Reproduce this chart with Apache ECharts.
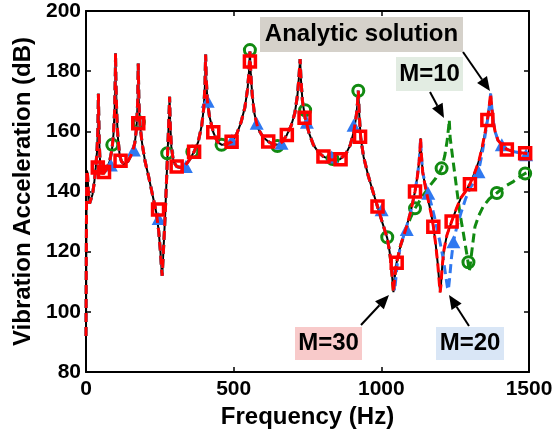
<!DOCTYPE html>
<html>
<head>
<meta charset="utf-8">
<script src="https://cdn.jsdelivr.net/npm/echarts@6/dist/echarts.min.js"></script>
<style>
html,body{margin:0;padding:0;background:#fff;}
#chart{width:556px;height:434px;}
</style>
</head>
<body>
<div id="chart"></div>
<script>
// ---- Data ----
const xTicks = [0, 500, 1000, 1500];
const yTicks = [80, 100, 120, 140, 160, 180, 200];

// Analytic solution (black solid)
const analyticFreq = [0,1,2,3,5,8,12,16,22,28,33,37,40,41.5,42,43,45,48,53,60,70,80,88,93,97,99.5,100,101,104,108,114,120,130,142,155,165,171,175,177,179,183,190,200,212,225,238,246,252,256,258,260,264,268,272,276,279,282,283,285,289,296,307,320,335,350,366,380,392,399,403,405,407,411,418,431,445,460,478,493,510,525,538,547,552,555,558,563,570,582,600,617,635,650,665,680,695,707,716,721,725,728,733,742,755,770,787,804,830,860,880,895,907,915,919,922,925,930,940,955,970,987,1004,1020,1028,1034,1038,1041,1044,1048,1052,1065,1086,1100,1114,1122,1128,1131,1133,1135,1140,1150,1159,1168,1176,1184,1191,1196,1199,1202,1206,1212,1222,1238,1255,1270,1285,1300,1315,1330,1342,1352,1360,1366,1370,1373,1378,1385,1395,1408,1425,1450,1470,1487,1500];
const analyticValues = [92,118,140,147,146,140,136,136,139,143,148,153,160,168,172.5,166,156,149,146,146,147.5,150,154,159,167,180,186,178,166,158,152,150,149,150,152.5,156,161,170,182.5,170,162,156,150,145,139,133,127,120,114,112,116,124,132,142,152,160,168,171.5,163,155,150,148.3,148,148.5,150.5,153.2,156.5,162,168,176,185.5,178,170,165,159.7,156.5,155.5,155.8,156.5,159,163,168,174,180,186.5,179,172,166,161,158,156.6,155.6,155.5,156.5,158.8,162,166,172,178,184,177,170,164.5,159.5,155.5,153,151.6,150.5,150.7,152.5,155.5,160,165,169,173.5,166,158,151.5,145.5,140.5,135,129.5,124.5,120,115,110,106.5,110,114,116.5,122,128.5,133.5,140,145,150,154,157.7,153,146.5,141,137,133,128.5,122.5,116,110,106.5,109,115,120.5,125.5,130,134.5,138,140,142.5,146,150,155,160,164.5,169,172.5,169,164,160,157,155.5,154,153.2,152.9,152.7,152.5];

// M=10 (green dashed): follows the analytic curve up to 1065 Hz, then its own branch
const m10TailFreq = [1086,1100,1114,1140,1165,1185,1204,1215,1223,1228,1230,1233,1238,1244,1255,1266,1278,1289,1295,1298,1302,1310,1317,1330,1345,1365,1391,1420,1447,1470,1487,1497];
const m10TailValues = [128,131.5,134.4,138.5,142,144.5,147.7,152,157,161.5,163.8,158,154,149.4,141,132.8,126,119.5,115.5,113.3,116.5,123,128.3,132,135,137.5,139.5,141.8,143.3,145,146,146.5];
const m10MarkFreq = [89,179,275,360,459,555,648,742,835,922,1020,1114,1204,1295,1391,1487];
const m10MarkValues = [155.5,163,152.7,153.2,155.5,187,155.1,167,150.8,173.5,124.8,134.4,147.7,116.5,139.5,146];

// M=20 (blue dashed): own trough near 1041 Hz and own branch 1140-1370 Hz
const m20MidFreq = [1034,1038,1042,1045,1049,1054];
const m20MidValues = [116,112,108.5,107,111,116];
const m20TailFreq = [1150,1159,1170,1180,1190,1200,1210,1218,1224,1227,1231,1237,1244,1255,1270,1285,1300,1315,1329,1342,1352,1360,1366];
const m20TailValues = [142,139.4,135.5,131.5,127,122.5,117.5,112,108,107.3,111,117.5,123.3,128,133,137.5,141,143.5,146.6,153,159,164,168.5];
const m20MarkFreq = [84,162,246,338,412,494,578,662,748,832,906,1001,1086,1159,1244,1329,1408,1490];
const m20MarkValues = [148.8,153.8,131,148.3,170,157,162.7,156,163,151.5,162,133.9,127.4,139.4,123.3,146.6,155.5,152.2];

// M=30 (red dashed): indistinguishable from the analytic curve
const m30MarkFreq = [40,61,117,177,244,307,366,431,493,555,617,680,740,804,862,928,987,1052,1114,1176,1238,1300,1359,1425,1487];
const m30MarkValues = [148,146.5,150.2,162.7,134,148.3,153.2,159.7,156.5,183.2,156.6,158.8,164.5,151.6,150.7,158.2,135,116.3,140,128.3,130,142.4,163.8,154,152.7];

// ---- Build series data ----
const pairs = (xs, ys) => xs.map((x, i) => [x, ys[i]]);
const analyticData = pairs(analyticFreq, analyticValues);
const m30Data = analyticData;
const m10Data = analyticData.filter(p => p[0] <= 1065).concat(pairs(m10TailFreq, m10TailValues));
const m20Data = analyticData.filter(p => p[0] < 1034)
  .concat(pairs(m20MidFreq, m20MidValues))
  .concat(analyticData.filter(p => p[0] > 1054 && p[0] <= 1140))
  .concat(pairs(m20TailFreq, m20TailValues))
  .concat(analyticData.filter(p => p[0] >= 1370));

const FONT = '"Liberation Sans", Arial, Helvetica, sans-serif';
const GREEN = '#118a11';
const BLUE = '#2f78f0';
const RED = '#ff0000';

const chart = echarts.init(document.getElementById('chart'), null, {renderer: 'canvas'});

const axisCommon = {
  type: 'value',
  axisLine: {show: true, onZero: false, lineStyle: {color: '#000', width: 2}},
  axisTick: {show: true, inside: true, length: 5, lineStyle: {color: '#000', width: 1.5}},
  splitLine: {show: false}
};
const plain = v => String(v);

const option = {
  backgroundColor: '#fff',
  animation: false,
  grid: {left: 86, right: 27, top: 11, bottom: 62, containLabel: false},
  xAxis: [
    Object.assign({}, axisCommon, {
      position: 'bottom', min: xTicks[0], max: xTicks[xTicks.length - 1], interval: xTicks[1] - xTicks[0],
      axisLabel: {show: true, fontSize: 21, fontWeight: 'bold', color: '#000', fontFamily: FONT, margin: 7, formatter: plain},
      name: 'Frequency (Hz)', nameLocation: 'middle', nameGap: 29,
      nameTextStyle: {fontSize: 24, fontWeight: 'bold', color: '#000', fontFamily: FONT}
    }),
    Object.assign({}, axisCommon, {
      position: 'top', min: xTicks[0], max: xTicks[xTicks.length - 1], interval: xTicks[1] - xTicks[0],
      axisLabel: {show: false}
    })
  ],
  yAxis: [
    Object.assign({}, axisCommon, {
      position: 'left', min: yTicks[0], max: yTicks[yTicks.length - 1], interval: yTicks[1] - yTicks[0],
      axisLabel: {show: true, fontSize: 21, fontWeight: 'bold', color: '#000', fontFamily: FONT, margin: 5, formatter: plain},
      name: 'Vibration Acceleration (dB)', nameLocation: 'middle', nameGap: 49,
      nameTextStyle: {fontSize: 24, fontWeight: 'bold', color: '#000', fontFamily: FONT}
    }),
    Object.assign({}, axisCommon, {
      position: 'right', min: yTicks[0], max: yTicks[yTicks.length - 1], interval: yTicks[1] - yTicks[0],
      axisLabel: {show: false}
    })
  ],
  series: [
    {name: 'Analytic solution', type: 'line', data: analyticData, showSymbol: false, symbol: 'none',
     lineStyle: {color: '#000', width: 2}, z: 2, clip: true},
    {name: 'M=10', type: 'line', data: m10Data, showSymbol: false, symbol: 'none',
     lineStyle: {color: GREEN, width: 3, type: [9, 5]}, z: 3, clip: true},
    {name: 'M=10 markers', type: 'scatter', data: pairs(m10MarkFreq, m10MarkValues), symbol: 'circle', symbolSize: 11,
     itemStyle: {color: 'rgba(0,0,0,0)', borderColor: GREEN, borderWidth: 3, opacity: 1}, z: 4},
    {name: 'M=20', type: 'line', data: m20Data, showSymbol: false, symbol: 'none',
     lineStyle: {color: BLUE, width: 3, type: [9, 5]}, z: 5, clip: true},
    {name: 'M=20 markers', type: 'scatter', data: pairs(m20MarkFreq, m20MarkValues), symbol: 'triangle', symbolSize: [14, 13],
     itemStyle: {color: BLUE, opacity: 1}, z: 6},
    {name: 'M=30', type: 'line', data: m30Data, showSymbol: false, symbol: 'none',
     lineStyle: {color: RED, width: 3, type: [9, 5]}, z: 7, clip: true},
    {name: 'M=30 markers', type: 'scatter', data: pairs(m30MarkFreq, m30MarkValues), symbol: 'rect', symbolSize: 11,
     itemStyle: {color: 'rgba(0,0,0,0)', borderColor: RED, borderWidth: 3.5, opacity: 1}, z: 8}
  ]
};

// ---- Annotations (pixel layout) ----
function arrow(x1, y1, x2, y2) {
  const ang = Math.atan2(y2 - y1, x2 - x1);
  const L = 14, W = 6;
  const bx = x2 - L * Math.cos(ang), by = y2 - L * Math.sin(ang);
  const px = -Math.sin(ang) * W, py = Math.cos(ang) * W;
  return [
    {type: 'line', shape: {x1: x1, y1: y1, x2: bx, y2: by}, style: {stroke: '#000', lineWidth: 2}, z: 100},
    {type: 'polygon', shape: {points: [[x2, y2], [bx + px, by + py], [bx - px, by - py]]}, style: {fill: '#000'}, z: 100}
  ];
}
function box(x, y, w, h, fill, text) {
  return [
    {type: 'rect', shape: {x: x, y: y, width: w, height: h}, style: {fill: fill}, z: 100},
    {type: 'text', x: x + w / 2, y: y + h / 2, style: {text: text, fill: '#000', font: 'bold 24px ' + FONT, align: 'center', verticalAlign: 'middle'}, z: 101}
  ];
}
option.graphic = [].concat(
  box(260, 17, 203, 35, '#d5d1ca', 'Analytic solution'),
  box(396, 57, 67, 34, '#e2ece2', 'M=10'),
  box(295, 327, 67, 33, '#f8caca', 'M=30'),
  box(436, 327, 68, 33, '#d9e6f6', 'M=20'),
  arrow(463, 52, 490, 91),
  arrow(430, 92, 444, 118),
  arrow(361, 325, 389, 295),
  arrow(469, 326, 449, 295)
);

chart.setOption(option);
</script>
</body>
</html>
